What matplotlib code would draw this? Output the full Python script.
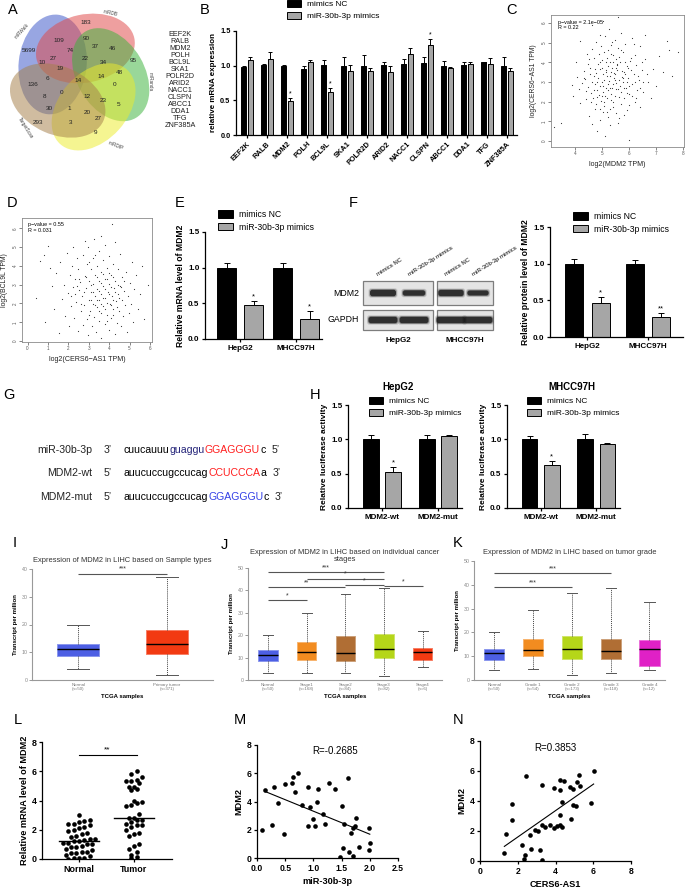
import numpy as np
import matplotlib
matplotlib.use('Agg')
import matplotlib.pyplot as plt
from matplotlib.patches import Ellipse, Rectangle, Patch, FancyBboxPatch

plt.rcParams['font.family'] = ['Liberation Sans', 'DejaVu Sans']
plt.rcParams['axes.linewidth'] = 0.9

W, H = 685, 892

# ---------------- data ----------------
venn_names = ['miRWalk', 'miRDB', 'miRanda', 'miRDIP', 'TargetScan']
venn_counts = [5699, 183, 95, 9, 293,
               109, 90, 37, 46, 74, 22, 34, 48, 10, 27,
               19, 14, 14, 0, 6, 136, 0, 12, 23, 8,
               30, 1, 20, 5, 27, 3]
target_genes = ['EEF2K', 'RALB', 'MDM2', 'POLH', 'BCL9L', 'SKA1', 'POLR2D',
                'ARID2', 'NACC1', 'CLSPN', 'ABCC1', 'DDA1', 'TFG', 'ZNF385A']

b_nc = [0.98, 1.01, 1.00, 0.95, 1.01, 1.00, 0.99, 1.01, 1.02, 1.04, 1.00, 1.01, 1.05, 1.00]
b_nc_err = [0.02, 0.02, 0.01, 0.05, 0.07, 0.12, 0.16, 0.05, 0.08, 0.08, 0.07, 0.05, 0.01, 0.12]
b_mim = [1.08, 1.10, 0.49, 1.06, 0.62, 0.92, 0.92, 0.91, 1.17, 1.30, 0.96, 1.03, 1.02, 0.93]
b_mim_err = [0.05, 0.10, 0.04, 0.02, 0.06, 0.09, 0.04, 0.08, 0.08, 0.08, 0.02, 0.02, 0.09, 0.04]
b_sig = ['', '', '*', '', '*', '', '', '', '', '*', '', '', '', '']

# log2 TPM: (MDM2, CERS6-AS1)
c_scatter = np.array([
    (3.21, 0.72), (3.48, 0.93), (3.93, 2.31), (3.88, 2.84), (4.02, 4.03), (4.13, 2.62), (4.08, 3.27), (4.19, 1.91), (4.27, 2.93), (4.33, 3.58),
    (4.41, 2.12), (4.38, 3.14), (4.44, 4.41), (4.52, 1.28), (4.49, 2.73), (4.55, 3.39), (4.47, 3.92), (4.61, 0.88), (4.58, 2.44), (4.63, 3.02),
    (4.57, 3.71), (4.64, 4.69), (4.72, 1.63), (4.68, 2.18), (4.74, 2.91), (4.71, 3.29), (4.69, 4.23), (4.81, 0.52), (4.78, 1.87), (4.83, 2.61),
    (4.79, 3.48), (4.84, 3.93), (4.77, 5.02), (4.91, 1.07), (4.88, 2.32), (4.93, 2.79), (4.86, 3.18), (4.92, 3.68), (4.89, 4.42), (5.02, 1.49),
    (4.97, 2.03), (5.03, 2.51), (4.98, 2.98), (5.04, 3.41), (5.01, 4.12), (4.96, 4.81), (5.12, 0.28), (5.08, 1.79), (5.13, 2.68), (5.07, 3.12),
    (5.14, 3.59), (5.09, 4.52), (5.11, 5.31), (5.22, 1.21), (5.18, 2.19), (5.23, 2.88), (5.17, 3.31), (5.24, 3.79), (5.19, 4.22), (5.31, 0.81),
    (5.28, 1.62), (5.33, 2.41), (5.27, 3.03), (5.34, 3.52), (5.29, 4.01), (5.32, 4.88), (5.26, 5.68), (5.41, 1.98), (5.38, 2.72), (5.43, 3.19),
    (5.37, 3.71), (5.42, 4.38), (5.52, 1.41), (5.48, 2.29), (5.53, 2.93), (5.47, 3.38), (5.54, 3.88), (5.49, 5.12), (5.61, 0.91), (5.58, 2.62),
    (5.63, 3.08), (5.57, 3.62), (5.62, 4.28), (5.59, 4.71), (5.71, 1.88), (5.68, 2.81), (5.73, 3.27), (5.67, 4.02), (5.72, 5.49), (5.81, 2.18),
    (5.78, 3.01), (5.83, 3.49), (5.79, 4.52), (5.91, 1.58), (5.88, 2.71), (5.93, 3.81), (5.87, 4.92), (6.02, 2.38), (5.98, 3.22), (6.03, 4.08),
    (6.01, 0.08), (6.11, 2.91), (6.08, 3.62), (6.13, 5.21), (6.21, 1.99), (6.18, 3.41), (6.23, 4.39), (6.31, 2.61), (6.28, 3.88), (6.42, 1.71),
    (6.38, 3.09), (6.43, 4.81), (6.52, 2.48), (6.48, 3.59), (6.61, 4.19), (6.72, 3.02), (6.83, 2.21), (6.91, 3.68), (7.02, 2.79), (7.12, 4.31),
    (7.28, 3.52), (7.51, 4.62), (7.62, 3.29), (7.83, 4.52), (5.58, 6.28), (5.02, 6.12), (4.62, 5.88), (6.58, 5.41), (7.41, 5.09), (4.18, 5.08),
    (4.42, 2.52), (4.59, 1.98), (4.73, 3.68), (4.82, 2.22), (4.81, 3.01), (4.94, 1.62), (4.91, 4.02), (5.03, 2.81), (4.99, 3.72), (5.12, 2.31),
    (5.06, 1.98), (5.13, 4.02), (5.21, 2.58), (5.16, 3.52), (5.23, 4.62), (5.32, 2.08), (5.28, 3.32), (5.34, 4.42), (5.39, 2.92), (5.44, 3.48),
    (5.41, 1.71), (5.38, 5.02), (5.52, 2.62), (5.47, 3.12), (5.53, 4.18), (5.62, 2.22), (5.57, 3.92), (5.69, 2.48), (5.74, 3.58), (5.71, 4.62),
    (5.82, 1.31), (5.77, 3.22), (5.84, 4.01), (5.92, 2.42), (5.87, 3.38), (6.01, 2.78), (5.97, 3.72), (6.12, 2.31), (6.07, 4.22), (6.22, 3.01),
    (6.18, 4.91), (6.32, 3.31), (6.27, 2.18), (6.51, 3.02), (6.47, 4.01), (6.68, 3.42), (4.31, 3.22), (4.53, 4.18), (4.93, 5.38), (5.18, 1.49),
    (5.42, 4.02), (5.62, 1.18), (5.81, 2.68), (6.02, 1.82), (5.01, 2.28), (4.71, 2.58), (5.31, 2.69), (5.52, 3.71), (5.91, 2.98), (6.42, 2.69),
])

# log2 TPM: (CERS6-AS1, BCL9L)
d_scatter = np.array([
    (0.42, 2.31), (0.61, 4.28), (0.88, 1.02), (1.02, 5.08), (1.18, 2.91), (1.31, 1.69), (1.42, 3.62), (1.52, 0.41), (1.58, 4.19), (1.71, 2.22),
    (1.78, 3.01), (1.83, 1.31), (1.92, 4.68), (1.98, 2.58), (2.03, 0.82), (2.08, 3.52), (2.13, 1.88), (2.18, 4.02), (2.22, 2.89), (2.28, 1.21),
    (2.33, 3.31), (2.38, 2.08), (2.42, 4.42), (2.48, 0.52), (2.52, 2.71), (2.49, 3.82), (2.62, 1.58), (2.58, 3.12), (2.68, 2.42), (2.72, 4.58),
    (2.71, 0.88), (2.79, 1.91), (2.82, 3.48), (2.88, 2.81), (2.92, 1.19), (2.91, 4.12), (2.98, 0.31), (3.02, 2.21), (3.01, 3.19), (2.97, 4.98),
    (3.08, 1.62), (3.12, 2.59), (3.11, 3.81), (3.18, 0.79), (3.22, 1.98), (3.19, 3.02), (3.21, 4.41), (3.28, 1.29), (3.32, 2.38), (3.31, 3.49),
    (3.38, 0.49), (3.42, 1.81), (3.41, 2.79), (3.39, 4.02), (3.48, 1.08), (3.52, 2.18), (3.51, 3.21), (3.49, 4.79), (3.58, 1.49), (3.62, 2.52),
    (3.61, 3.69), (3.59, 0.18), (3.68, 1.89), (3.72, 2.91), (3.71, 4.29), (3.78, 0.92), (3.82, 2.29), (3.81, 3.31), (3.79, 5.12), (3.88, 1.39),
    (3.92, 2.61), (3.91, 3.89), (3.98, 0.58), (4.02, 1.99), (4.01, 3.02), (3.99, 4.51), (4.08, 1.21), (4.12, 2.39), (4.11, 3.51), (4.18, 1.69),
    (4.22, 2.81), (4.21, 4.09), (4.28, 0.39), (4.32, 2.11), (4.31, 3.19), (4.38, 0.98), (4.42, 2.49), (4.41, 3.81), (4.48, 1.59), (4.52, 2.91),
    (4.51, 4.62), (4.58, 0.79), (4.62, 2.19), (4.61, 3.41), (4.68, 1.31), (4.72, 2.69), (4.78, 1.91), (4.82, 3.69), (4.88, 0.49), (4.92, 2.41),
    (4.98, 1.51), (5.02, 3.09), (5.08, 1.99), (5.12, 4.19), (5.18, 0.99), (5.22, 2.79), (5.31, 3.49), (5.42, 1.69), (5.52, 2.49), (5.61, 3.99),
    (5.72, 1.19), (5.88, 2.99), (2.81, 5.31), (3.62, 5.59), (4.12, 6.21), (3.28, 5.41), (4.31, 5.29), (2.21, 4.99), (1.09, 3.91), (0.79, 4.59),
    (2.41, 2.91), (2.61, 1.99), (2.79, 2.59), (3.01, 1.41), (2.99, 4.21), (3.09, 2.99), (3.21, 2.61), (3.29, 1.91), (3.31, 4.59), (3.41, 3.39),
    (3.49, 2.69), (3.51, 1.61), (3.59, 3.09), (3.69, 2.31), (3.71, 3.59), (3.81, 1.71), (3.79, 2.79), (3.89, 3.29), (3.91, 2.01), (3.99, 2.49),
    (4.01, 3.61), (4.09, 1.91), (4.11, 2.89), (4.19, 2.21), (4.21, 3.39), (4.29, 2.59), (4.39, 1.81), (4.41, 2.99), (4.49, 2.29), (4.59, 2.89),
    (2.89, 3.39), (2.51, 3.29), (3.11, 2.19), (3.39, 2.21), (3.61, 1.99), (3.89, 1.09), (4.19, 1.41), (4.71, 3.21), (2.31, 2.49), (2.11, 2.39),
])

cell_lines = ['HepG2', 'MHCC97H']
e_nc, e_nc_err = [1.00, 1.00], [0.06, 0.07]
e_mim, e_mim_err = [0.47, 0.28], [0.06, 0.11]
e_sig = ['*', '*']

f_nc, f_nc_err = [1.00, 1.00], [0.07, 0.05]
f_mim, f_mim_err = [0.46, 0.27], [0.09, 0.06]
f_sig = ['*', '**']
blot_mdm2 = [1.0, 0.7, 0.95, 0.6]      # band strength per lane
blot_gapdh = [1.0, 1.0, 1.0, 1.0]

h_groups = ['MDM2-wt', 'MDM2-mut']
h_hep_nc, h_hep_nc_err = [1.00, 1.01], [0.06, 0.06]
h_hep_mim, h_hep_mim_err = [0.53, 1.05], [0.07, 0.02]
h_mh_nc, h_mh_nc_err = [1.00, 1.00], [0.05, 0.08]
h_mh_mim, h_mh_mim_err = [0.62, 0.93], [0.07, 0.02]
h_sig = ['*', '']

i_groups = ['Normal\n(n=50)', 'Primary tumor\n(n=371)']
i_q1, i_med, i_q3 = [8.5, 9.2], [11.2, 13.0], [13.0, 18.0]
i_lo, i_hi = [4.0, 1.8], [20.0, 37.0]

j_groups = ['Normal\n(n=50)', 'Stage1\n(n=168)', 'Stage2\n(n=84)', 'Stage3\n(n=82)', 'Stage4\n(n=6)']
j_q1, j_med, j_q3 = [8.5, 9.0, 8.5, 9.8, 9.0], [11.0, 12.5, 12.0, 14.0, 12.5], [13.2, 17.0, 19.5, 20.5, 14.2]
j_lo, j_hi = [3.0, 3.0, 3.0, 1.8, 6.0], [20.0, 29.7, 38.5, 41.0, 21.8]

k_groups = ['Normal\n(n=50)', 'Grade 1\n(n=54)', 'Grade 2\n(n=173)', 'Grade 3\n(n=118)', 'Grade 4\n(n=12)']
k_q1, k_med, k_q3 = [8.5, 9.9, 9.0, 8.7, 6.0], [11.3, 12.7, 13.0, 12.2, 13.0], [13.0, 17.3, 18.5, 17.3, 17.0]
k_lo, k_hi = [4.0, 4.5, 2.0, 3.0, 4.0], [20.0, 29.5, 36.7, 38.7, 32.8]

l_normal = [3.0, 2.7, 2.6, 2.5, 2.4, 2.4, 2.3, 2.2, 2.1, 2.0, 1.9, 1.8, 1.7, 1.6, 1.5, 1.4, 1.4, 1.3,
            1.2, 1.2, 1.1, 1.1, 1.0, 1.0, 0.9, 0.8, 0.8, 0.7, 0.6, 0.5, 0.5, 0.4, 0.4, 0.3, 0.2, 0.1, 0.1, 0.0, 0.05]
l_tumor = [6.0, 5.8, 5.6, 5.4, 5.3, 5.3, 5.2, 4.9, 4.9, 4.8, 4.7, 4.0, 3.9, 3.8, 3.7, 3.6, 3.1, 2.8, 2.8,
           2.7, 2.7, 2.5, 2.4, 2.3, 2.3, 2.2, 2.0, 1.8, 1.7, 1.6, 1.0, 0.9, 0.7, 0.5, 0.3, 0.1, 0.15]

m_mir = [0.09, 0.14, 0.30, 0.27, 0.37, 0.47, 0.50, 0.62, 0.63, 0.72, 0.67, 0.80, 0.90, 0.91, 0.94, 1.00, 1.02, 1.07, 1.08,
         1.17, 1.20, 1.27, 1.39, 1.50, 1.54, 1.62, 1.53, 1.48, 1.63, 1.70, 1.67, 1.71, 1.73, 1.75, 1.80, 1.98, 2.00, 1.99]
m_mdm2 = [2.0, 4.8, 5.0, 2.35, 3.9, 1.7, 5.25, 5.3, 5.75, 6.0, 4.7, 3.75, 5.05, 2.3, 3.6, 2.75, 2.25, 3.95, 4.9,
          3.1, 2.4, 5.3, 4.85, 3.65, 2.4, 5.65, 0.7, 0.05, 0.4, 0.15, 1.8, 2.1, 2.3, 2.8, 0.8, 2.15, 1.05, 0.55]

n_cers6 = [1.29, 1.38, 1.68, 1.68, 2.44, 2.24, 2.38, 2.33, 2.69, 2.67, 2.92, 3.06, 3.18, 3.27, 3.27, 3.30, 3.45, 3.71, 3.90,
           3.92, 4.06, 4.24, 4.24, 4.26, 4.26, 4.33, 4.35, 4.47, 4.82, 4.77, 4.95, 4.91, 5.07, 5.14, 5.25, 5.30, 5.88, 6.02]
n_mdm2 = [0.55, 1.8, 3.77, 2.73, 5.65, 1.06, 0.4, 0.11, 0.78, 1.73, 2.06, 2.0, 0.73, 0.04, 5.06, 2.39, 2.28, 2.39, 4.88,
          2.17, 2.33, 2.39, 3.1, 4.72, 5.37, 2.28, 3.95, 5.32, 2.79, 4.94, 4.83, 3.72, 3.68, 5.28, 5.76, 5.01, 3.88, 6.01]

NC_COLOR, MIM_COLOR = 'black', '#a6a6a6'

fig = plt.figure(figsize=(W / 100, H / 100), dpi=100)
canvas = fig.add_axes([0, 0, 1, 1])
canvas.set_xlim(0, W)
canvas.set_ylim(H, 0)
canvas.axis('off')
renderer = fig.canvas.get_renderer()


def px_axes(x0, y0, x1, y1):
    ax = fig.add_axes([x0 / W, 1 - y1 / H, (x1 - x0) / W, (y1 - y0) / H])
    ax.patch.set_visible(False)
    return ax


def prism_style(ax, fs=5.5):
    for s in ['top', 'right']:
        ax.spines[s].set_visible(False)
    ax.tick_params(length=2.5, width=0.9, labelsize=fs, pad=1.5)
    for lab in ax.get_xticklabels() + ax.get_yticklabels():
        lab.set_fontweight('bold')


def bar_legend(ax, x, y, fs=6):
    handles = [Patch(fc=NC_COLOR, ec='black', lw=0.7), Patch(fc=MIM_COLOR, ec='black', lw=0.7)]
    ax.legend(handles, ['mimics NC', 'miR-30b-3p mimics'], loc='upper left',
              bbox_to_anchor=(x / W, 1 - y / H), bbox_transform=fig.transFigure,
              frameon=False, fontsize=fs, handlelength=1.7, handleheight=0.9,
              handletextpad=0.7, labelspacing=0.45, borderpad=0, borderaxespad=0)


def group_bars(ax, nc, nc_err, mim, mim_err, sig, off, width, cap, star_fs=5.5):
    x = np.arange(len(nc))
    n = len(nc)
    ax.bar(x - off, nc, width, color=NC_COLOR, edgecolor='black', lw=0.7, zorder=2)
    ax.bar(x + off, mim, width, color=MIM_COLOR, edgecolor='black', lw=0.7, zorder=2)
    ax.errorbar(x - off, nc, yerr=[np.zeros(n), nc_err], fmt='none', ecolor='black',
                elinewidth=0.7, capsize=cap, capthick=0.7, zorder=1)
    ax.errorbar(x + off, mim, yerr=[np.zeros(n), mim_err], fmt='none', ecolor='black',
                elinewidth=0.7, capsize=cap, capthick=0.7, zorder=1)
    for i in range(n):
        if sig[i]:
            ax.text(x[i] + off, mim[i] + mim_err[i] + 0.01, sig[i], ha='center', va='bottom',
                    fontsize=star_fs)
    ax.set_xticks(x)
    return x


def letter(x, y, s):
    canvas.text(x, y, s, fontsize=10.5, ha='center', va='center')


# ---------------- A: Venn ----------------
letter(13, 10, 'A')
venn_colors = ['#3a55c8', '#e04848', '#3cb33c', '#ecec2c', '#a5804a']
venn_center = (80, 79)
for k, col in enumerate(venn_colors):
    th = 152 - 72 * k
    cx = venn_center[0] + 31 * np.cos(np.deg2rad(th))
    cy = venn_center[1] - 31 * np.sin(np.deg2rad(th))
    canvas.add_patch(Ellipse((cx, cy), 100, 68, angle=-(th + 112), fc=col, ec='none', alpha=0.52))
venn_count_xy = [(29, 51), (86, 23), (133, 61), (96, 133), (38, 122),
                 (59, 41), (86, 39), (95, 47), (112, 49), (70, 51), (85, 59), (103, 63), (119, 72), (42, 63), (53, 58),
                 (60, 69), (78, 81), (101, 77), (115, 85), (47, 79), (33, 85), (62, 93), (87, 97), (103, 101), (45, 97),
                 (49, 109), (69, 108), (87, 112), (119, 105), (98, 118), (71, 123)]
for cnt, (vx, vy) in zip(venn_counts, venn_count_xy):
    canvas.text(vx, vy, str(cnt), fontsize=4.6, ha='center', va='center', color='#222222')
venn_name_pos = [(22, 31, 48), (110, 13, -12), (150, 82, -90), (116, 146, -22), (25, 128, -58)]
for name, (nx, ny, rot) in zip(venn_names, venn_name_pos):
    canvas.text(nx, ny, name, fontsize=3.4, ha='center', va='center', rotation=rot, color='#444444')
for i, g in enumerate(target_genes):
    canvas.text(180, 34 + 7.05 * i, g, fontsize=5.2, ha='center', va='center', color='#222222')

# ---------------- B ----------------
letter(205, 10, 'B')
axB = px_axes(236, 31, 517, 135)
xb = group_bars(axB, b_nc, b_nc_err, b_mim, b_mim_err, b_sig, 0.17, 0.27, 1.1, star_fs=5)
axB.set_xlim(-0.55, 13.5)
axB.set_ylim(0, 1.5)
axB.set_yticks([0, 0.5, 1.0, 1.5])
axB.set_yticklabels(['0.0', '0.5', '1.0', '1.5'])
axB.set_xticklabels(target_genes, rotation=45, ha='right', rotation_mode='anchor')
axB.set_ylabel('relative mRNA expression', fontsize=5.8, fontweight='bold', labelpad=2)
prism_style(axB, 5.3)
bar_legend(axB, 287, 0, fs=6)

# ---------------- C ----------------
letter(512, 10, 'C')


def gepia_scatter(ax, pts, xlim, ylim, xt, yt, xlab, ylab, txt):
    ax.scatter(pts[:, 0], pts[:, 1], s=0.7, c='#333333', lw=0)
    ax.set_xlim(*xlim)
    ax.set_ylim(*ylim)
    ax.set_xticks(xt)
    ax.set_yticks(yt)
    ax.set_yticklabels([str(v) for v in yt], rotation=90, va='center')
    for sp in ax.spines.values():
        sp.set_color('#8a8a8a')
        sp.set_linewidth(0.6)
    ax.tick_params(labelsize=3.3, length=2, width=0.5, colors='#555555', pad=1.2)
    ax.set_xlabel(xlab, fontsize=5.1, labelpad=3, color='#222222')
    ax.set_ylabel(ylab, fontsize=4.9, labelpad=3, color='#222222')
    ax.text(0.05, 0.965, txt, transform=ax.transAxes, fontsize=3.9, va='top', linespacing=1.15)


axC = px_axes(551, 15, 684, 147)
gepia_scatter(axC, c_scatter, (3.1, 8.05), (-0.3, 6.4), [4, 5, 6, 7, 8], [0, 1, 2, 3, 4, 5, 6],
              'log2(MDM2 TPM)', 'log2(CERS6\u2212AS1 TPM)', 'p\u2212value = 2.1e\u221205\nR = 0.22')

# ---------------- D ----------------
letter(12, 203, 'D')
axD = px_axes(22, 218, 152, 342)
gepia_scatter(axD, d_scatter, (-0.27, 6.1), (-0.05, 6.55), [0, 1, 2, 3, 4, 5, 6], [0, 1, 2, 3, 4, 5, 6],
              'log2(CERS6\u2212AS1 TPM)', 'log2(BCL9L TPM)', 'p\u2212value = 0.55\nR = 0.031')

# ---------------- E ----------------
letter(180, 203, 'E')
axE = px_axes(205, 232, 322, 339)
group_bars(axE, e_nc, e_nc_err, e_mim, e_mim_err, e_sig, 0.24, 0.34, 2.2)
axE.set_xlim(-0.63, 1.46)
axE.set_ylim(0, 1.5)
axE.set_yticks([0, 0.5, 1.0, 1.5])
axE.set_yticklabels(['0.0', '0.5', '1.0', '1.5'])
axE.set_xticklabels(cell_lines)
axE.set_ylabel('Relative mRNA level of MDM2', fontsize=6.2, fontweight='bold', labelpad=2)
prism_style(axE, 5.8)
bar_legend(axE, 218, 210, fs=6.2)

# ---------------- F ----------------
letter(353, 203, 'F')
lane_x = [383, 414, 451, 478]
lane_lbl = ['mimics NC', 'miR-30b-3p mimics', 'mimics NC', 'miR-30b-3p mimics']
for (bx0, bx1) in [(363, 433), (437, 493)]:
    for (by0, by1) in [(281, 305), (310, 330)]:
        canvas.add_patch(Rectangle((bx0, by0), bx1 - bx0, by1 - by0, fc='#e4e4e4', ec='#7d7d7d', lw=0.9))
for lx, s_m, s_g in zip(lane_x, blot_mdm2, blot_gapdh):
    for yc, strength, w in [(293, s_m, 26), (320, s_g, 29)]:
        hgt = 3.0 + 3.5 * strength
        for grow, alpha in [(3.0, 0.15), (1.5, 0.3), (0.0, 0.85)]:
            canvas.add_patch(FancyBboxPatch((lx - w * (0.55 + 0.45 * strength) / 2 - grow / 2, yc - hgt / 2 - grow / 2),
                                            w * (0.55 + 0.45 * strength) + grow, hgt + grow,
                                            boxstyle='round,pad=0,rounding_size=2.5',
                                            fc='#1e1e1e', ec='none', alpha=alpha))
for lx, lbl in zip(lane_x, lane_lbl):
    canvas.text(lx - 4, 277, lbl, fontsize=4.3, rotation=32, ha='left', va='bottom', rotation_mode='anchor')
canvas.text(359, 293, 'MDM2', fontsize=6.3, ha='right', va='center')
canvas.text(359, 320, 'GAPDH', fontsize=6.3, ha='right', va='center')
canvas.text(398, 341, 'HepG2', fontsize=5.8, fontweight='bold', ha='center', va='center')
canvas.text(465, 341, 'MHCC97H', fontsize=5.8, fontweight='bold', ha='center', va='center')

axF = px_axes(550, 227, 683, 337)
group_bars(axF, f_nc, f_nc_err, f_mim, f_mim_err, f_sig, 0.22, 0.3, 2.2)
axF.set_xlim(-0.62, 1.58)
axF.set_ylim(0, 1.5)
axF.set_yticks([0, 0.5, 1.0, 1.5])
axF.set_yticklabels(['0.0', '0.5', '1.0', '1.5'])
axF.set_xticklabels(cell_lines)
axF.set_ylabel('Relative protein level of MDM2', fontsize=6.2, fontweight='bold', labelpad=2)
prism_style(axF, 5.8)
bar_legend(axF, 573, 212, fs=6.2)

# ---------------- G ----------------
letter(9, 395, 'G')
g_rows = [
    ('miR-30b-3p', "3\u2019", [('cuucauuu', 'black'), ('guaggu', '#25257a'), ('GGAGGGU', '#ff1f1f'), ('c', 'black')], "5\u2019"),
    ('MDM2-wt', "5\u2019", [('auucuccugccucag', 'black'), ('CCUCCCA', '#ff1f1f'), ('a', 'black')], "3\u2019"),
    ('MDM2-mut', "5\u2019", [('auucuccugccucag', 'black'), ('GGAGGGU', '#3340e6'), ('c', 'black')], "3\u2019"),
]
for (name, end1, segs, end2), gy in zip(g_rows, [450, 473, 497]):
    canvas.text(92, gy, name, fontsize=7.6, ha='right', va='center', color='#222222')
    canvas.text(104, gy, end1, fontsize=7.6, ha='left', va='center', color='#222222')
    gx = 124
    for s, col in segs:
        t = canvas.text(gx, gy, s, fontsize=7.6, ha='left', va='center', color=col)
        gx += t.get_window_extent(renderer).width
    canvas.text(gx + 6, gy, end2, fontsize=7.6, ha='left', va='center', color='#222222')

# ---------------- H ----------------
letter(315, 395, 'H')
for (x0, x1, nc, nce, mim, mime, title, tx, lx) in [
        (348, 462, h_hep_nc, h_hep_nc_err, h_hep_mim, h_hep_mim_err, 'HepG2', 398, 369),
        (507, 620, h_mh_nc, h_mh_nc_err, h_mh_mim, h_mh_mim_err, 'MHCC97H', 572, 527)]:
    axH = px_axes(x0, 405, x1, 508)
    group_bars(axH, nc, nce, mim, mime, h_sig, 0.2, 0.28, 2.0)
    axH.set_xlim(-0.61, 1.43)
    axH.set_ylim(0, 1.5)
    axH.set_yticks([0, 0.5, 1.0, 1.5])
    axH.set_yticklabels(['0.0', '0.5', '1.0', '1.5'])
    axH.set_xticklabels(h_groups)
    axH.set_ylabel('Relative luciferase activity', fontsize=6.0, fontweight='bold', labelpad=2)
    prism_style(axH, 5.8)
    bar_legend(axH, lx, 397, fs=6.0)
    canvas.text(tx, 387, title, fontsize=7, fontweight='bold', ha='center', va='center')

# ---------------- I, J, K ----------------
BLUE, RED, ORANGE, BROWN, LIME, MAGENTA = '#4d5fe4', '#f23a12', '#f28c20', '#b06e34', '#b5d619', '#e021c6'


def lighten(c, f=0.35):
    rgb = np.array(matplotlib.colors.to_rgb(c))
    return tuple(rgb + (1 - rgb) * f)


def gepia_box(ax, names, q1, med, q3, lo, hi, colors, width, ymax, yt, brackets, title):
    stats = [dict(med=m, q1=a, q3=b, whislo=l, whishi=h, fliers=[])
             for a, m, b, l, h in zip(q1, med, q3, lo, hi)]
    bp = ax.bxp(stats, positions=range(len(stats)), widths=width, patch_artist=True, showfliers=False,
                whiskerprops=dict(color='#444444', lw=0.7, linestyle=(0, (1, 1))),
                capprops=dict(color='#555555', lw=0.7),
                medianprops=dict(color='black', lw=1.0),
                boxprops=dict(lw=0.7))
    for patch, col in zip(bp['boxes'], colors):
        patch.set_facecolor(col)
        patch.set_edgecolor(lighten(col))
    ax.set_ylim(0, ymax)
    ax.set_yticks(yt)
    ax.set_xticks(range(len(names)))
    ax.set_xticklabels(names, fontsize=3.2, color='#777777', linespacing=1.1)
    for s in ['top', 'right']:
        ax.spines[s].set_visible(False)
    for s in ['left', 'bottom']:
        ax.spines[s].set_color('#999999')
        ax.spines[s].set_linewidth(0.8)
    ax.tick_params(axis='y', labelsize=3.8, colors='#888888', length=2, width=0.6, pad=1)
    ax.tick_params(axis='x', length=0, pad=2)
    ax.set_xlabel('TCGA samples', fontsize=4.3, fontweight='bold', labelpad=2)
    ax.set_ylabel('Transcript per million', fontsize=4.3, fontweight='bold', labelpad=3)
    ax.set_title(title, fontsize=5.4, color='#333333', pad=5, linespacing=1.1)
    for (a, b, yv, s) in brackets:
        ax.plot([a, b], [yv, yv], color='#555555', lw=0.8, solid_capstyle='butt')
        ax.text((a + b) / 2, yv + 0.3, s, ha='center', va='bottom', fontsize=5, color='#333333')


letter(15, 543, 'I')
axI = px_axes(32, 569, 213, 680)
gepia_box(axI, i_groups, i_q1, i_med, i_q3, i_lo, i_hi, [BLUE, RED], 0.48, 40, [0, 10, 20, 30, 40],
          [(0, 1, 38.3, '***')], 'Expression of MDM2 in LIHC based on Sample types')
axI.set_xlim(-0.52, 1.52)

letter(224, 545, 'J')
axJ = px_axes(248, 568, 442, 680)
gepia_box(axJ, j_groups, j_q1, j_med, j_q3, j_lo, j_hi, [BLUE, ORANGE, BROWN, LIME, RED], 0.5, 50,
          [0, 10, 20, 30, 40, 50],
          [(0, 3, 48.3, '***'), (1, 3, 45.3, '*'), (0, 2, 41.3, '**'), (2, 3, 42.6, '*'),
           (3, 4, 42.0, '*'), (0, 1, 35.6, '*')],
          'Expression of MDM2 in LIHC based on individual cancer\nstages')
axJ.set_xlim(-0.52, 4.5)

letter(458, 543, 'K')
axK = px_axes(474, 561, 665, 680)
gepia_box(axK, k_groups, k_q1, k_med, k_q3, k_lo, k_hi, [BLUE, ORANGE, LIME, BROWN, MAGENTA], 0.52, 50,
          [0, 10, 20, 30, 40, 50],
          [(0, 3, 45.0, '***'), (0, 2, 39.0, '***')],
          'Expression of MDM2 in LIHC based on tumor grade')
axK.set_xlim(-0.52, 4.4)

# ---------------- L ----------------
letter(18, 720, 'L')
axL = px_axes(42, 742, 172, 859)


def row_offsets(vals, row_h, dx):
    # Prism-style scatter: points that fall in the same row are spread side by side
    vals = np.asarray(vals)
    offs = np.zeros(len(vals))
    rows = np.floor(vals / row_h + 0.5).astype(int)
    for r in np.unique(rows):
        idx = np.where(rows == r)[0]
        idx = idx[np.argsort(vals[idx])]
        n = len(idx)
        for j, pos in zip(idx, range(n)):
            offs[j] = (pos - (n - 1) / 2) * dx
    return offs


xpx_L = 55.0
for pos, vals in enumerate([l_normal, l_tumor]):
    vals = np.array(vals)
    xs = pos + row_offsets(vals, 0.42, 5.3) / xpx_L
    axL.scatter(xs, vals, s=11, c='black', lw=0, zorder=3)
    med = np.median(vals)
    axL.plot([pos - 0.36, pos + 0.36], [med, med], color='black', lw=1.0, zorder=2)
axL.plot([0, 1.05], [7.1, 7.1], color='black', lw=0.8)
axL.text(0.52, 7.25, '**', ha='center', va='bottom', fontsize=6)
axL.set_xlim(-0.67, 1.69)
axL.set_ylim(0, 8)
axL.set_yticks([0, 2, 4, 6, 8])
axL.set_xticks([0, 1])
axL.set_xticklabels(['Normal', 'Tumor'])
axL.set_ylabel('Relative mRNA level of MDM2', fontsize=6.6, fontweight='bold', labelpad=2)
prism_style(axL, 6.4)

# ---------------- M ----------------
letter(240, 720, 'M')
axM = px_axes(257, 745, 398, 858)
mx, my = np.array(m_mir), np.array(m_mdm2)
axM.scatter(mx, my, s=11, c='black', lw=0, zorder=3)
cf = np.polyfit(mx, my, 1)
xl = np.array([mx.min() + 0.05, mx.max()])
axM.plot(xl, np.polyval(cf, xl), color='black', lw=0.8)
axM.text(1.38, 7.55, 'R=-0.2685', ha='center', va='center', fontsize=7)
axM.set_xlim(0, 2.5)
axM.set_ylim(0, 8)
axM.set_xticks([0, 0.5, 1.0, 1.5, 2.0, 2.5])
axM.set_xticklabels(['0.0', '0.5', '1.0', '1.5', '2.0', '2.5'])
axM.set_yticks([0, 2, 4, 6, 8])
axM.set_xlabel('miR-30b-3p', fontsize=6.6, fontweight='bold', labelpad=3)
axM.set_ylabel('MDM2', fontsize=6.6, fontweight='bold', labelpad=2)
prism_style(axM, 6.2)

# ---------------- N ----------------
letter(458, 720, 'N')
axN = px_axes(480, 741, 631, 861)
nx, ny = np.array(n_cers6), np.array(n_mdm2)
axN.scatter(nx, ny, s=11, c='black', lw=0, zorder=3)
cf = np.polyfit(nx, ny, 1)
xl = np.array([nx.min(), nx.max()])
axN.plot(xl, np.polyval(cf, xl), color='black', lw=0.8)
axN.text(4.0, 7.55, 'R=0.3853', ha='center', va='center', fontsize=7)
axN.set_xlim(0, 8)
axN.set_ylim(0, 8)
axN.set_xticks([0, 2, 4, 6, 8])
axN.set_yticks([0, 2, 4, 6, 8])
axN.set_xlabel('CERS6-AS1', fontsize=6.6, fontweight='bold', labelpad=3)
axN.set_ylabel('MDM2', fontsize=6.6, fontweight='bold', labelpad=2)
prism_style(axN, 6.2)

fig.savefig('out.png', dpi=100)
